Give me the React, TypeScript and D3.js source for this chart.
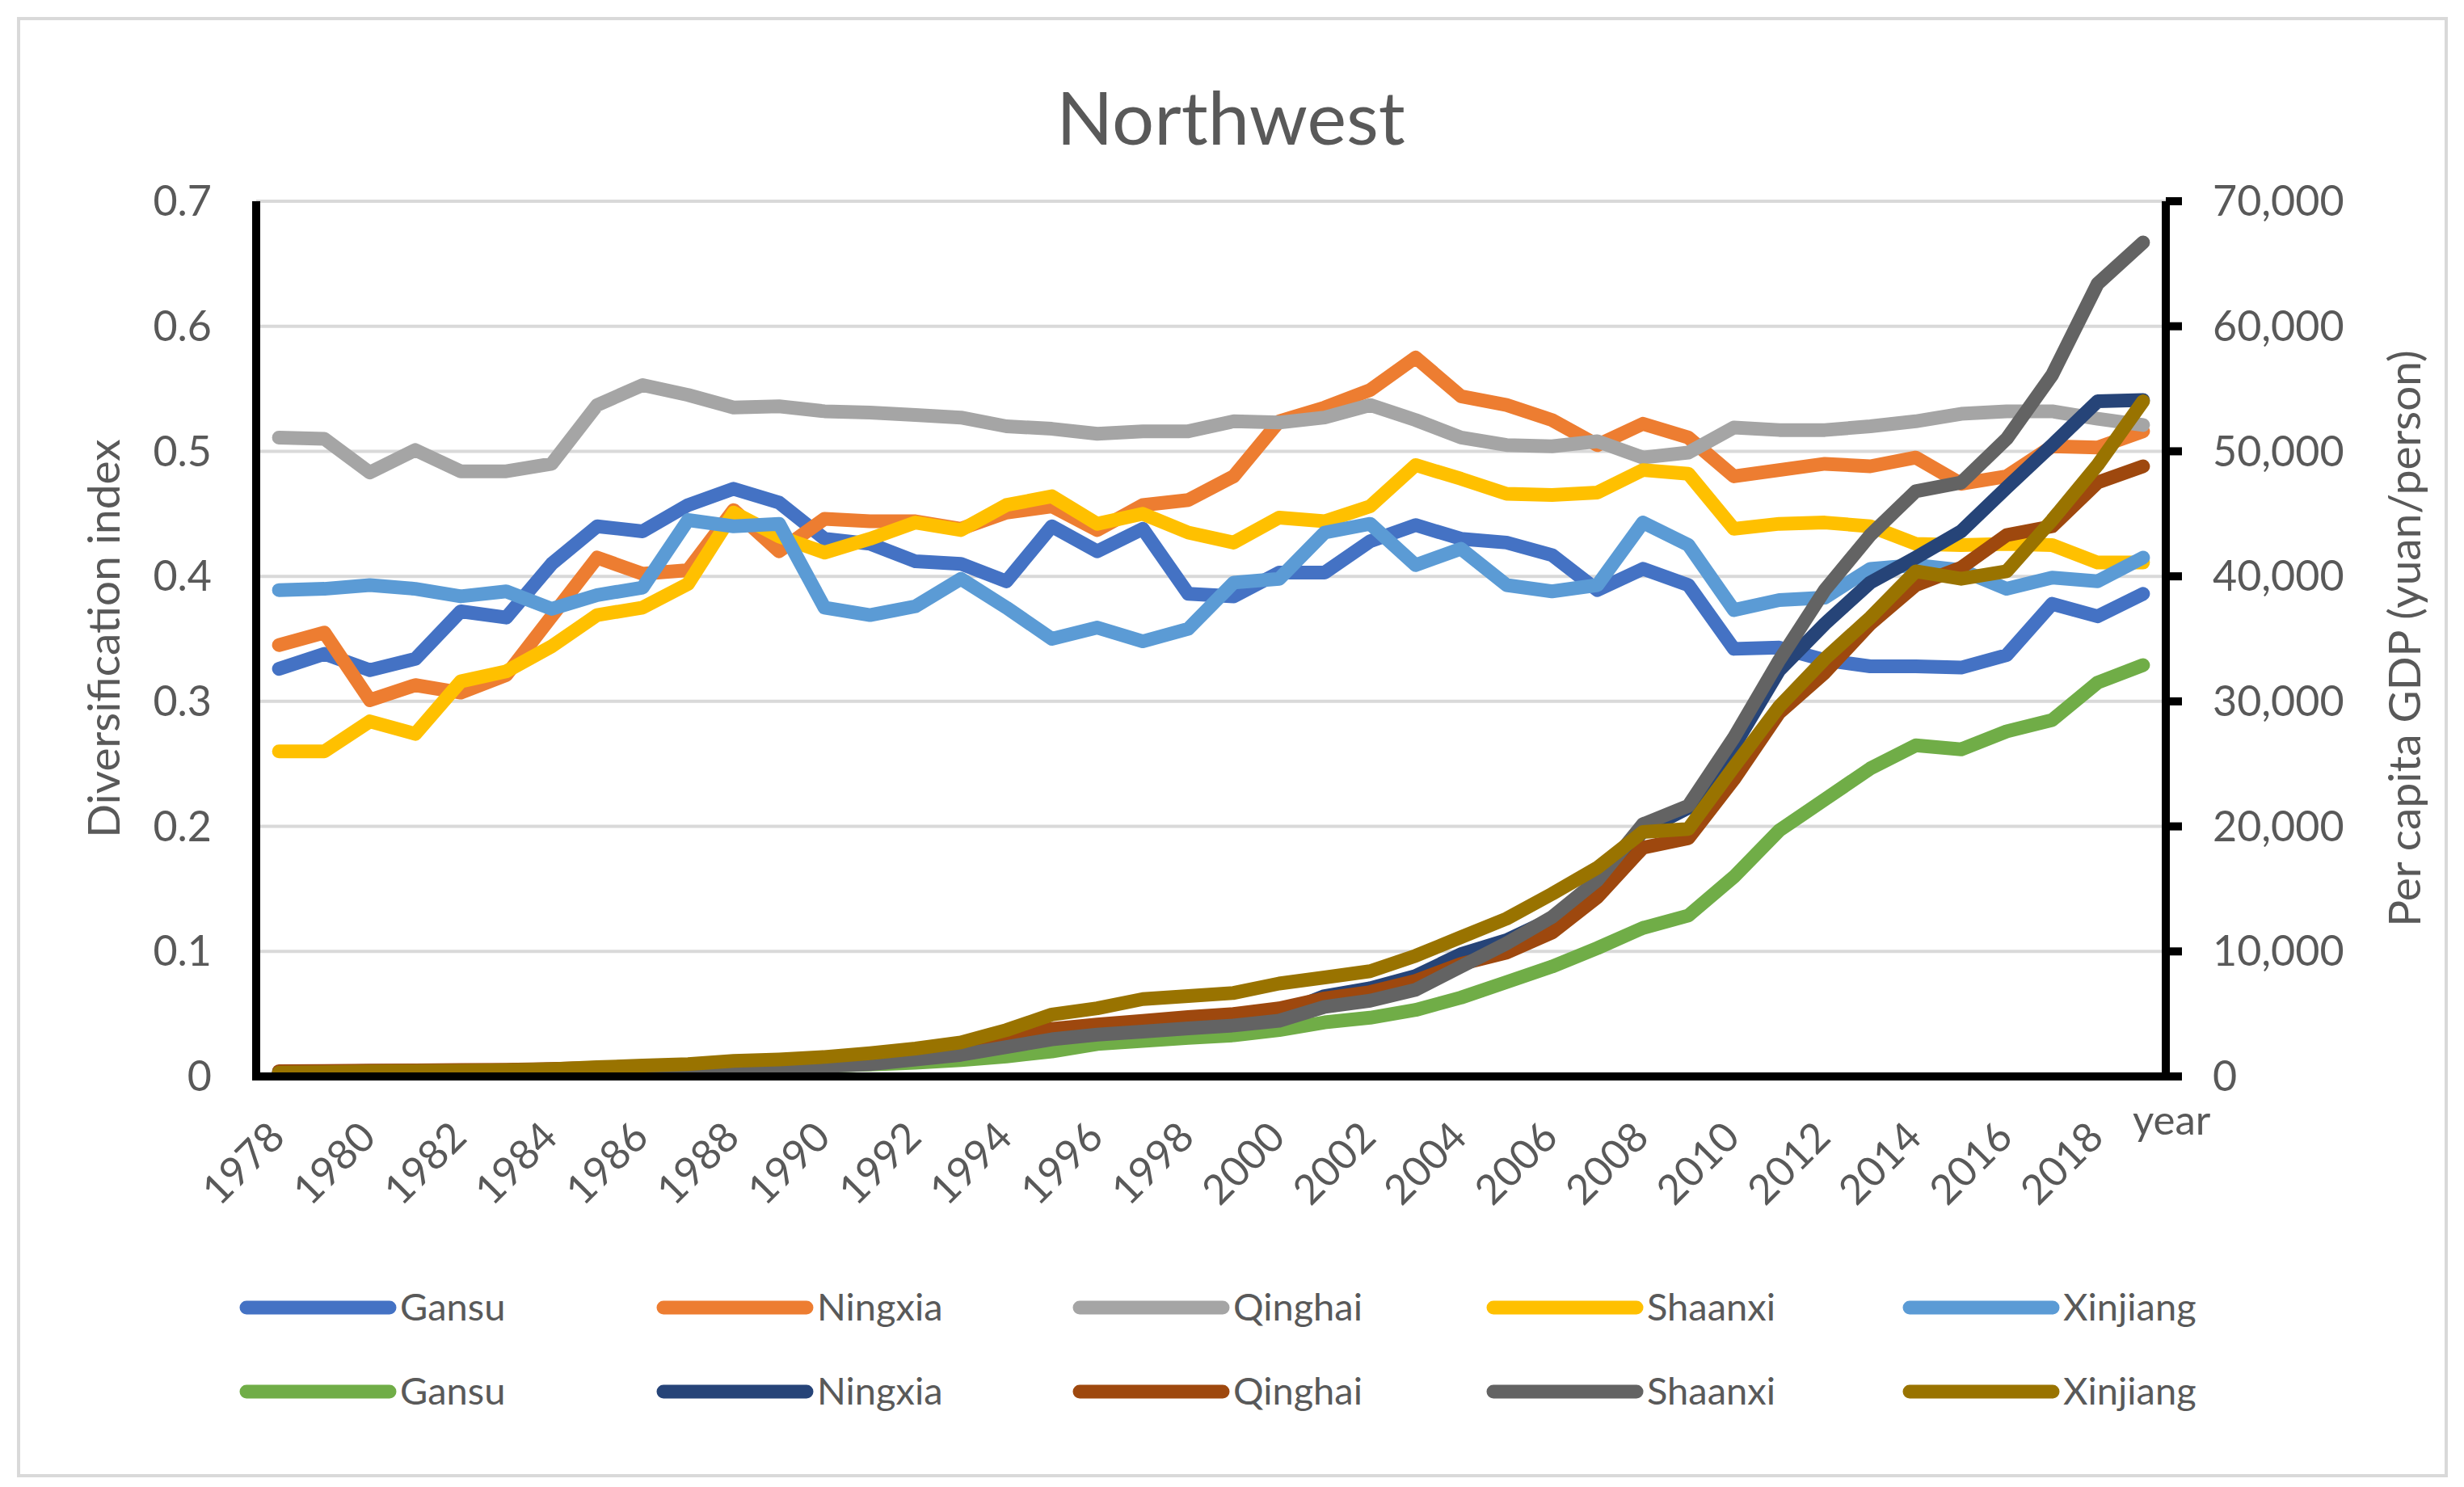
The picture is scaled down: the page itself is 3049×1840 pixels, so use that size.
import React, { useEffect, useRef } from 'react';
import * as d3 from 'd3';

const years = d3.range(1978, 2020);

// diversification index (left axis)
const gansuIdx = [0.326, 0.338, 0.325, 0.334, 0.372, 0.367, 0.410, 0.440, 0.436, 0.457, 0.470, 0.459, 0.430, 0.426, 0.412, 0.410, 0.396, 0.440, 0.420, 0.438, 0.386, 0.384, 0.403, 0.403, 0.428, 0.441, 0.430, 0.427, 0.417, 0.389, 0.406, 0.393, 0.342, 0.343, 0.333, 0.328, 0.328, 0.327, 0.337, 0.378, 0.368, 0.386];
const ningxiaIdx = [0.345, 0.355, 0.301, 0.313, 0.307, 0.321, 0.368, 0.415, 0.402, 0.405, 0.453, 0.420, 0.446, 0.444, 0.444, 0.438, 0.451, 0.456, 0.437, 0.457, 0.461, 0.480, 0.524, 0.535, 0.549, 0.575, 0.544, 0.537, 0.525, 0.505, 0.522, 0.511, 0.480, 0.485, 0.490, 0.488, 0.495, 0.474, 0.480, 0.504, 0.503, 0.516];
const qinghaiIdx = [0.511, 0.510, 0.483, 0.501, 0.484, 0.484, 0.490, 0.537, 0.553, 0.545, 0.535, 0.536, 0.532, 0.531, 0.529, 0.527, 0.520, 0.518, 0.514, 0.516, 0.516, 0.524, 0.523, 0.527, 0.537, 0.525, 0.511, 0.505, 0.504, 0.508, 0.495, 0.499, 0.519, 0.517, 0.517, 0.520, 0.524, 0.530, 0.532, 0.532, 0.526, 0.521];
const shaanxiIdx = [0.260, 0.260, 0.284, 0.274, 0.316, 0.324, 0.344, 0.369, 0.375, 0.394, 0.451, 0.432, 0.419, 0.430, 0.443, 0.437, 0.457, 0.464, 0.442, 0.450, 0.435, 0.427, 0.447, 0.444, 0.456, 0.489, 0.478, 0.466, 0.465, 0.467, 0.485, 0.482, 0.438, 0.442, 0.443, 0.440, 0.426, 0.425, 0.426, 0.425, 0.411, 0.411];
const xinjiangIdx = [0.389, 0.390, 0.393, 0.390, 0.384, 0.388, 0.374, 0.385, 0.391, 0.445, 0.440, 0.442, 0.375, 0.369, 0.376, 0.398, 0.375, 0.350, 0.359, 0.348, 0.358, 0.395, 0.398, 0.435, 0.442, 0.409, 0.422, 0.393, 0.388, 0.393, 0.443, 0.425, 0.373, 0.381, 0.383, 0.406, 0.409, 0.405, 0.390, 0.399, 0.396, 0.415];

// per capita GDP, yuan/person (right axis)
const gansuGdp = [348, 350, 390, 380, 410, 450, 500, 550, 600, 650, 750, 800, 850, 950, 1100, 1300, 1600, 2000, 2600, 2850, 3090, 3290, 3710, 4330, 4700, 5320, 6310, 7550, 8790, 10270, 11880, 12870, 15960, 19680, 22150, 24630, 26480, 26160, 27600, 28500, 31500, 32900];
const ningxiaGdp = [370, 390, 430, 440, 460, 490, 560, 650, 720, 800, 950, 1050, 1200, 1300, 1500, 1800, 2400, 3100, 3500, 3800, 4100, 4400, 5000, 6430, 7050, 8040, 9780, 10900, 12600, 15400, 19600, 21500, 26400, 32500, 36200, 39500, 41500, 43600, 47100, 50500, 54000, 54100];
const qinghaiGdp = [428, 440, 470, 480, 510, 540, 600, 700, 780, 870, 1000, 1100, 1300, 1500, 1800, 2300, 3300, 3800, 4150, 4450, 4750, 5000, 5450, 6250, 6750, 7650, 9000, 9900, 11500, 14350, 18300, 19060, 23760, 29100, 32300, 36200, 39300, 40700, 43300, 44000, 47500, 48800];
const shaanxiGdp = [291, 300, 330, 350, 380, 410, 450, 500, 550, 600, 650, 700, 820, 990, 1360, 1730, 2350, 2970, 3340, 3590, 3840, 4080, 4460, 5570, 6060, 6930, 8790, 10640, 12750, 15700, 20170, 21650, 27100, 33300, 38900, 43300, 46800, 47500, 51000, 56100, 63400, 66700];
const xinjiangGdp = [313, 340, 410, 430, 460, 500, 580, 740, 870, 990, 1240, 1360, 1560, 1860, 2230, 2720, 3710, 4950, 5450, 6190, 6430, 6680, 7430, 7920, 8420, 9650, 11140, 12620, 14600, 16700, 19550, 19800, 24750, 29600, 33400, 36700, 40400, 39800, 40400, 44500, 48900, 54000];

const provinces = ['Gansu', 'Ningxia', 'Qinghai', 'Shaanxi', 'Xinjiang'];
const idxColors = ['#4472C4', '#ED7D31', '#A5A5A5', '#FFC000', '#5B9BD5'];
const gdpColors = ['#70AD47', '#264478', '#9E480E', '#636363', '#997300'];

const leftTicks = [0, 0.1, 0.2, 0.3, 0.4, 0.5, 0.6, 0.7];
const rightTicks = [0, 10000, 20000, 30000, 40000, 50000, 60000, 70000];
const yearLabels = d3.range(1978, 2019, 2);

export default function App() {
  const svgRef = useRef<SVGSVGElement>(null);

  useEffect(() => {
    if (!svgRef.current) return;
    const svg = d3.select(svgRef.current);
    svg.selectAll('*').remove();

    const W = 3049, H = 1840;
    const left = 317, right = 2680, top = 249, bottom = 1332;
    const font = 'Lato, "Open Sans", sans-serif';
    const txt = '#595959';

    svg.append('rect').attr('width', W).attr('height', H).attr('fill', 'white');
    svg.append('rect')
      .attr('x', 23).attr('y', 23).attr('width', 3004).attr('height', 1803)
      .attr('fill', 'none').attr('stroke', '#d9d9d9').attr('stroke-width', 4);

    const step = (right - left) / years.length;
    const x = d3.scalePoint<number>().domain(years).range([left + step / 2, right - step / 2]);
    const yL = d3.scaleLinear().domain([0, 0.7]).range([bottom, top]);
    const yR = d3.scaleLinear().domain([0, 70000]).range([bottom, top]);

    // gridlines
    svg.append('g').selectAll('line')
      .data(leftTicks.slice(1))
      .enter().append('line')
      .attr('x1', left).attr('x2', right)
      .attr('y1', d => yL(d)).attr('y2', d => yL(d))
      .attr('stroke', '#d9d9d9').attr('stroke-width', 4);

    // title
    svg.append('text')
      .attr('x', 1523).attr('y', 179)
      .attr('text-anchor', 'middle')
      .attr('font-family', font).attr('font-size', 92)
      .attr('fill', txt)
      .text('Northwest');

    // left tick labels
    svg.append('g').selectAll('text')
      .data(leftTicks)
      .enter().append('text')
      .attr('x', 262).attr('y', d => yL(d))
      .attr('dy', '0.35em')
      .attr('text-anchor', 'end')
      .attr('font-family', font).attr('font-size', 52).attr('fill', txt)
      .text(d => (d === 0 ? '0' : d.toFixed(1)));

    // right tick labels
    svg.append('g').selectAll('text')
      .data(rightTicks)
      .enter().append('text')
      .attr('x', 2738).attr('y', d => yR(d))
      .attr('dy', '0.35em')
      .attr('text-anchor', 'start')
      .attr('font-family', font).attr('font-size', 52).attr('fill', txt)
      .text(d => d3.format(',')(d));

    // x tick labels
    svg.append('g').selectAll('text')
      .data(yearLabels)
      .enter().append('text')
      .attr('transform', d => `translate(${(x(d) as number) + 10},1410) rotate(-45)`)
      .attr('text-anchor', 'end')
      .attr('font-family', font).attr('font-size', 51).attr('fill', txt)
      .text(d => String(d));

    svg.append('text')
      .attr('x', 2639).attr('y', 1404)
      .attr('font-family', font).attr('font-size', 51).attr('fill', txt)
      .text('year');

    // axis titles
    svg.append('text')
      .attr('transform', 'translate(129,790) rotate(-90)')
      .attr('dy', '0.35em')
      .attr('text-anchor', 'middle')
      .attr('font-family', font).attr('font-size', 55).attr('fill', txt)
      .text('Diversification index');

    svg.append('text')
      .attr('transform', 'translate(2976,790) rotate(-90)')
      .attr('dy', '0.35em')
      .attr('text-anchor', 'middle')
      .attr('font-family', font).attr('font-size', 55).attr('fill', txt)
      .text('Per capita GDP (yuan/person)');

    // series
    const idxSeries = [gansuIdx, ningxiaIdx, qinghaiIdx, shaanxiIdx, xinjiangIdx];
    const gdpSeries = [gansuGdp, ningxiaGdp, qinghaiGdp, shaanxiGdp, xinjiangGdp];

    const lineL = d3.line<number>().x((_, i) => x(years[i]) as number).y(d => yL(d));
    const lineR = d3.line<number>().x((_, i) => x(years[i]) as number).y(d => yR(d));

    const lines = svg.append('g')
      .attr('fill', 'none')
      .attr('stroke-width', 17)
      .attr('stroke-linejoin', 'round')
      .attr('stroke-linecap', 'round');

    idxSeries.forEach((s, i) => {
      lines.append('path').attr('d', lineL(s)).attr('stroke', idxColors[i]);
    });
    gdpSeries.forEach((s, i) => {
      lines.append('path').attr('d', lineR(s)).attr('stroke', gdpColors[i]);
    });

    // axes
    const axes = svg.append('g').attr('stroke', 'black').attr('stroke-width', 10);
    axes.append('line').attr('x1', left).attr('x2', left).attr('y1', top).attr('y2', bottom + 5);
    axes.append('line').attr('x1', left - 5).attr('x2', right + 20).attr('y1', bottom).attr('y2', bottom);
    axes.append('line').attr('x1', right).attr('x2', right).attr('y1', top).attr('y2', bottom + 5);
    axes.selectAll('.rtick')
      .data(rightTicks)
      .enter().append('line')
      .attr('x1', right).attr('x2', right + 20)
      .attr('y1', d => yR(d)).attr('y2', d => yR(d));

    // legend
    const colX = [305, 821, 1336, 1848, 2363];
    const rowY = [1618, 1722];
    const legend = svg.append('g');
    [idxColors, gdpColors].forEach((colors, r) => {
      provinces.forEach((name, c) => {
        legend.append('line')
          .attr('x1', colX[c]).attr('x2', colX[c] + 177)
          .attr('y1', rowY[r]).attr('y2', rowY[r])
          .attr('stroke', colors[c]).attr('stroke-width', 17)
          .attr('stroke-linecap', 'round');
        legend.append('text')
          .attr('x', colX[c] + 190).attr('y', rowY[r])
          .attr('dy', '0.35em')
          .attr('font-family', font).attr('font-size', 47).attr('fill', txt)
          .text(name);
      });
    });
  }, []);

  return (
    <svg
      ref={svgRef}
      width={3049}
      height={1840}
      style={{ position: 'absolute', left: 0, top: 0, display: 'block' }}
    />
  );
}
